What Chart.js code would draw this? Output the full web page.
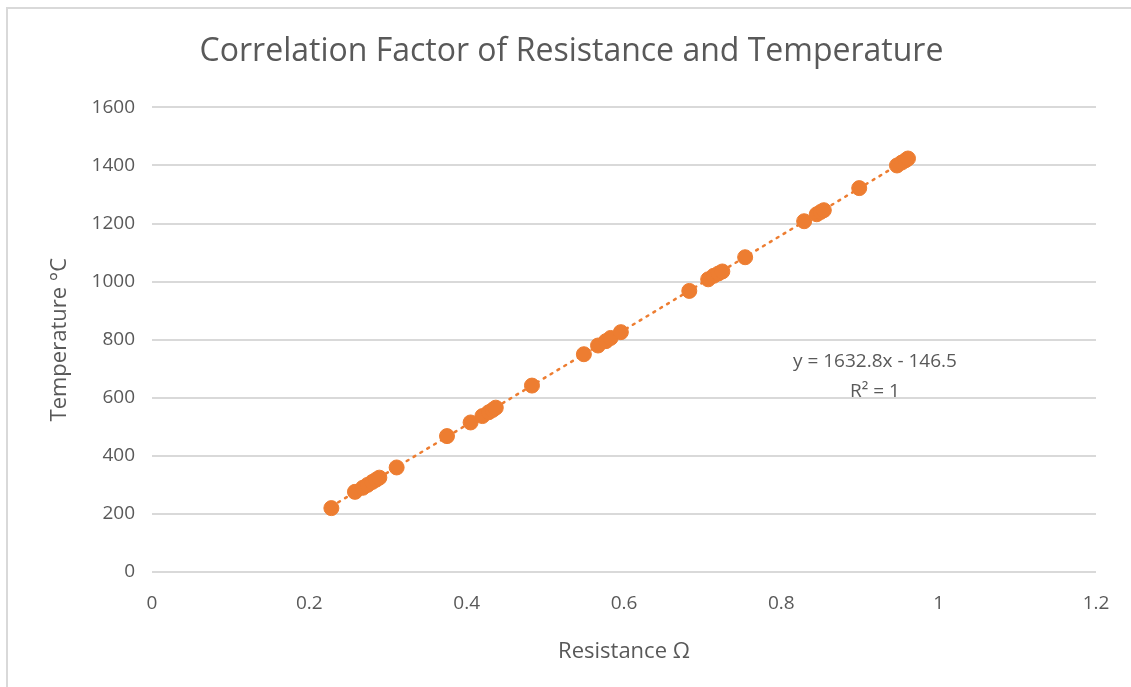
<!DOCTYPE html>
<html>
<head>
<meta charset="utf-8">
<script src="https://cdn.jsdelivr.net/npm/chart.js@4/dist/chart.umd.min.js"></script>
<style>
html,body{margin:0;padding:0;background:#fff;}
#wrap{position:absolute;left:0;top:0;width:1131px;height:687px;}
#frame{position:absolute;left:6px;top:7px;right:0;bottom:0;border-left:2px solid #d9d9d9;border-top:2px solid #d9d9d9;pointer-events:none;}
</style>
</head>
<body>
<div id="wrap"><canvas id="c" width="1131" height="687"></canvas><div id="frame"></div></div>
<script>
// resistance (ohm) vs temperature (C)
const resistance=[0.228,0.258,0.268,0.274,0.280,0.285,0.289,0.311,0.375,0.405,0.420,0.428,0.433,0.437,0.483,0.549,0.567,0.577,0.583,0.596,0.683,0.707,0.714,0.720,0.725,0.754,0.829,0.845,0.850,0.854,0.899,0.947,0.953,0.958,0.961];
const temperature=[220,276,290,300,310,318,325,360,468,515,537,550,558,566,642,750,780,795,806,826,968,1008,1020,1028,1035,1084,1208,1232,1240,1246,1322,1400,1410,1418,1424];
const slope=1632.8, intercept=-146.5;
const eqLabel=['y = 1632.8x - 146.5','R² = 1'];

const orange='#ed7d31', grey='#595959';
const pts=resistance.map((x,i)=>({x,y:temperature[i]}));
const xmin=Math.min(...resistance), xmax=Math.max(...resistance);
const trend=[{x:xmin,y:slope*xmin+intercept},{x:xmax,y:slope*xmax+intercept}];

const eqPlugin={id:'eq',afterDatasetsDraw(ch){
  const c=ch.ctx,xs=ch.scales.x,ys=ch.scales.y;
  const px=xs.getPixelForValue(0.919), py=ys.getPixelForValue(723);
  c.save();c.fillStyle=grey;c.font='19px "Open Sans"';c.textAlign='center';c.textBaseline='middle';
  c.fillText(eqLabel[0],px,py);c.fillText(eqLabel[1],px,py+30);c.restore();
}};

Chart.defaults.font.family='"Open Sans"';
Chart.defaults.color=grey;
new Chart(document.getElementById('c'),{
  type:'scatter',
  data:{datasets:[
    {data:trend,showLine:true,borderColor:orange,borderWidth:2.5,borderDash:[2,6],borderCapStyle:'round',pointRadius:0,order:2},
    {data:pts,backgroundColor:orange,borderColor:orange,pointRadius:7.5,pointHoverRadius:7.5,order:1}
  ]},
  options:{
    responsive:false,animation:false,
    layout:{padding:{left:47,right:35,top:0,bottom:22}},
    plugins:{legend:{display:false},tooltip:{enabled:false},
      title:{display:true,text:'Correlation Factor of Resistance and Temperature',color:grey,font:{size:32,weight:'normal'},padding:{top:33,bottom:36}}},
    scales:{
      x:{type:'linear',min:0,max:1.2,
        ticks:{stepSize:0.2,font:{size:19},padding:20,callback:v=>String(+v.toFixed(1))},
        grid:{display:false,drawTicks:false},border:{display:false},
        title:{display:true,text:'Resistance Ω',font:{size:22},padding:0},
        afterFit(s){s.height=93;}},
      y:{min:0,max:1600,
        ticks:{stepSize:200,font:{size:19},padding:17,callback:v=>String(v)},
        grid:{color:'#d9d9d9',lineWidth:2,drawTicks:false},border:{display:false},
        title:{display:true,text:'Temperature °C',font:{size:22},padding:0},
        afterFit(s){s.width=105;}}
    }
  },
  plugins:[eqPlugin]
});
</script>
</body>
</html>
